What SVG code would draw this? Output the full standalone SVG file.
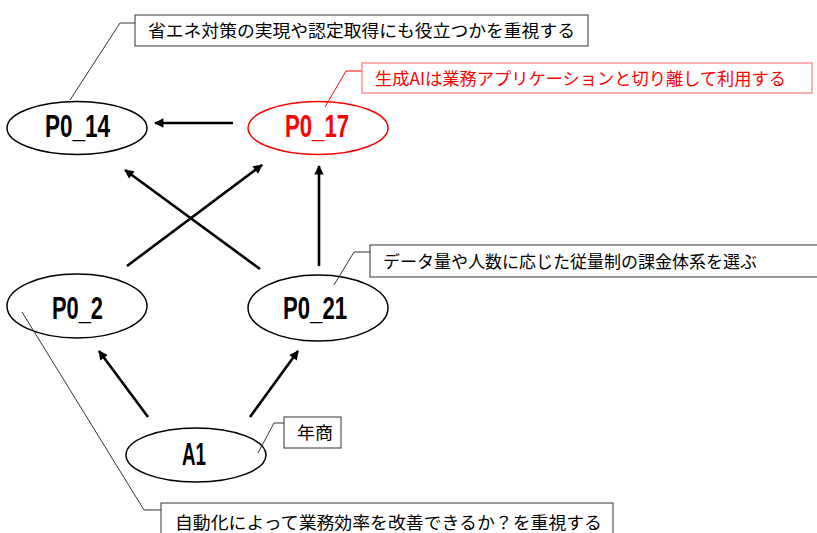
<svg xmlns="http://www.w3.org/2000/svg" width="817" height="533" viewBox="0 0 817 533">
<style>
.node ellipse{fill:#fff;stroke:#000;stroke-width:1.5}
.node text{font-family:"Liberation Sans",Arial,sans-serif;font-weight:bold;font-size:31px;text-anchor:middle;fill:#000}
.red ellipse{stroke:#ff0000}
.red text{fill:#ff0000}
.conn line{stroke:#000;stroke-width:2.6;marker-end:url(#ah)}
.note rect{fill:#fff;stroke:#333;stroke-width:1}
.note polyline{fill:none;stroke:#333;stroke-width:1}
.note text{font-family:"Noto Sans CJK JP","Noto Sans",sans-serif;font-size:17px;fill:#000}
.rnote rect{stroke:#ff6060}
.rnote polyline{stroke:#ff0000}
.rnote text{fill:#ff0000}
</style>
<defs>
<marker id="ah" viewBox="0 0 10 10" refX="9" refY="5" markerWidth="4.2" markerHeight="3.6" markerUnits="strokeWidth" orient="auto">
<path d="M0,0 L10,5 L0,10 z" fill="#000"/>
</marker>
</defs>
<rect width="817" height="533" fill="#fff"/>
<g id="connectors" class="conn">
<line x1="233" y1="123" x2="155" y2="123"/>
<line x1="260" y1="269" x2="125" y2="170"/>
<line x1="127" y1="266" x2="262" y2="165"/>
<line x1="319" y1="266" x2="319" y2="166"/>
<line x1="148" y1="417" x2="99" y2="351"/>
<line x1="250" y1="417" x2="298" y2="351"/>
</g>
<g id="node-P0_14" class="node">
<ellipse cx="77" cy="128" rx="70" ry="26.5"/>
<text x="77.5" y="137" textLength="65" lengthAdjust="spacingAndGlyphs">P0_14</text>
</g>
<g id="node-P0_17" class="node red">
<ellipse cx="318" cy="128" rx="70" ry="26.5"/>
<text x="317" y="137" textLength="64" lengthAdjust="spacingAndGlyphs">P0_17</text>
</g>
<g id="node-P0_2" class="node">
<ellipse cx="77" cy="306" rx="70" ry="32"/>
<text x="77.5" y="319" textLength="51" lengthAdjust="spacingAndGlyphs">P0_2</text>
</g>
<g id="node-P0_21" class="node">
<ellipse cx="318" cy="308" rx="70" ry="33"/>
<text x="315" y="319" textLength="64" lengthAdjust="spacingAndGlyphs">P0_21</text>
</g>
<g id="node-A1" class="node">
<ellipse cx="196" cy="455" rx="70" ry="27"/>
<text x="194" y="465" textLength="24" lengthAdjust="spacingAndGlyphs">A1</text>
</g>
<g id="note-P0_14" class="note">
<polyline points="70,100 120,23 135,23"/>
<rect x="135" y="15" width="453" height="31"/>
<text x="148" y="37" textLength="427" lengthAdjust="spacingAndGlyphs">省エネ対策の実現や認定取得にも役立つかを重視する</text>
</g>
<g id="note-P0_17" class="note rnote">
<polyline points="325,107 346,71 362,71"/>
<rect x="362" y="63" width="450" height="30"/>
<text x="375" y="84.5" textLength="411" lengthAdjust="spacingAndGlyphs">生成AIは業務アプリケーションと切り離して利用する</text>
</g>
<g id="note-P0_21" class="note">
<polyline points="334,285 354,252 370,252"/>
<rect x="370" y="245" width="460" height="32"/>
<text x="383" y="267.5" textLength="374" lengthAdjust="spacingAndGlyphs">データ量や人数に応じた従量制の課金体系を選ぶ</text>
</g>
<g id="note-A1" class="note">
<polyline points="258,453 274,423 284,423"/>
<rect x="284" y="417" width="57" height="31"/>
<text x="297" y="439" textLength="36" lengthAdjust="spacingAndGlyphs">年商</text>
</g>
<g id="note-P0_2" class="note">
<polyline points="22,312 144,510 161,510"/>
<rect x="161" y="503" width="452" height="40"/>
<text x="175" y="529" textLength="427" lengthAdjust="spacingAndGlyphs">自動化によって業務効率を改善できるか？を重視する</text>
</g>
</svg>
